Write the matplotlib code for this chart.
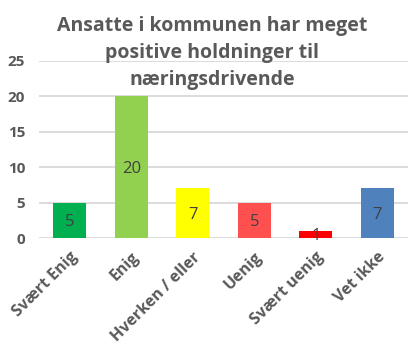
import matplotlib
matplotlib.use("Agg")
import matplotlib.pyplot as plt

categories = ["Svært Enig", "Enig", "Hverken / eller", "Uenig", "Svært uenig", "Vet ikke"]
values = [5, 20, 7, 5, 1, 7]
colors = ["#00B050", "#92D050", "#FFFF00", "#FF5050", "#FF0000", "#4F81BD"]
yticks = [0, 5, 10, 15, 20, 25]
title = "Ansatte i kommunen har meget\npositive holdninger til\nnæringsdrivende"

plt.rcParams["font.family"] = ["Open Sans", "DejaVu Sans"]

fig = plt.figure(figsize=(4.08, 3.45), dpi=100)
ax = fig.add_axes([39 / 408, 1 - 238 / 345, 369 / 408, (238 - 61) / 345])

x = list(range(len(categories)))
bars = ax.bar(x, values, width=0.54, color=colors, zorder=2)
for b, v in zip(bars, values):
    ax.text(b.get_x() + b.get_width() / 2, v / 2, str(v), ha="center", va="center_baseline",
            fontsize=12, color="#404040", zorder=3)

ax.set_xlim(-0.5, len(categories) - 0.5)
ax.set_ylim(0, 25)
ax.set_yticks(yticks)
ax.set_yticklabels([str(t) for t in yticks], fontsize=11, fontweight="bold", color="#595959")
ax.set_xticks(x)
ax.set_xticklabels(categories, rotation=45, ha="right", rotation_mode="anchor",
                   fontsize=11.5, fontweight="bold", color="#595959")
ax.tick_params(axis="y", length=0, pad=10)
ax.tick_params(axis="x", length=0, pad=8)
ax.grid(axis="y", color="#D9D9D9", linewidth=1.3, zorder=0)
ax.set_axisbelow(True)
for s in ax.spines.values():
    s.set_visible(False)

fig.text(0.52, 1 - 53 / 345, title, ha="center", va="center", fontsize=14,
         fontweight="bold", color="#595959", linespacing=1.5, zorder=5)

fig.savefig("out.png", dpi=100)
